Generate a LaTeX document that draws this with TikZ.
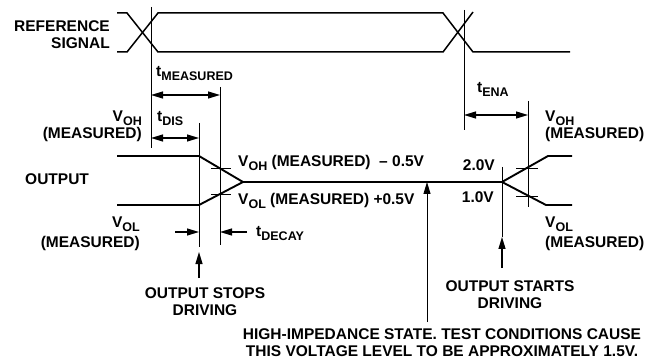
\documentclass[tikz,border=0pt]{standalone}
\usepackage{fontspec}
\setmainfont{Liberation Sans}
\usetikzlibrary{arrows.meta}
\newcommand{\lowtxt}[1]{\raisebox{-0.25em}{\fontsize{12.5}{12.5}\selectfont #1}}
\begin{document}
\begin{tikzpicture}[x=1pt, y=-1pt, >={Triangle[length=12pt, width=7pt]},
		wave/.style={line width=1.9pt},
		bus/.style={line width=1.5pt},
		guide/.style={line width=0.9pt},
		tick/.style={line width=0.8pt},
		dim/.style={line width=1.2pt},
		lbl/.style={font=\fontsize{15.5}{17}\selectfont\bfseries, inner sep=0pt},
		tight/.style={font={\fontsize{15.5}{16.5}\selectfont\bfseries\lineskiplimit=-20pt\relax}},
		loose/.style={font=\fontsize{15.5}{20}\selectfont\bfseries}]
	\useasboundingbox (0, 0) rectangle (648, 358);

	\draw[bus] (117, 13) -- (127, 13) -- (158, 52) -- (443, 52) -- (473, 12);
	\draw[bus] (117, 52) -- (127, 52) -- (158, 13) -- (443, 13) -- (473, 52) -- (570, 52);
	\node[lbl, anchor=north east, align=right] (refsig) at (110, 20.5) {REFERENCE\\SIGNAL};

	\draw[guide] (151, 7) -- (151, 148);
	\draw[guide] (464, 10) -- (464, 130);
	\draw[guide] (199, 123) -- (199, 247);
	\draw[guide] (220, 87) -- (220, 245);
	\draw[guide] (528, 101) -- (528, 207);
	\draw[guide] (502, 167) -- (502, 237);

	\draw[wave] (117, 156) -- (199, 156) -- (243, 182) -- (502, 182) -- (548, 156) -- (572, 156);
	\draw[wave] (117, 205) -- (199, 205) -- (243, 182);
	\draw[wave] (502, 182) -- (546, 205) -- (572, 205);
	\node[lbl, anchor=west] (outlbl) at (25, 179) {OUTPUT};

	\draw[tick] (211, 168) -- (231, 168);
	\draw[tick] (211, 194) -- (231, 194);
	\draw[tick] (516, 168) -- (538, 168);
	\draw[tick] (516, 196) -- (538, 196);

	\draw[dim, <->] (151, 95) -- (220, 95);
	\draw[dim, <->] (151, 138) -- (199, 138);
	\draw[dim, <->] (464, 115) -- (528, 115);
	\draw[dim, ->] (175, 232) -- (199, 232);
	\draw[dim, ->] (247, 232) -- (220, 232);
	\node[lbl, anchor=north west] (tmeas) at (156, 66.5) {t\lowtxt{MEASURED}};
	\node[lbl, anchor=north west] (tdis) at (157, 111) {t\lowtxt{DIS}};
	\node[lbl, anchor=north west] (tena) at (477, 82.5) {t\lowtxt{ENA}};
	\node[lbl, anchor=north west] (tdecay) at (256, 226.5) {t\lowtxt{DECAY}};

	\node[lbl, tight, anchor=north east, align=right] (vohl) at (142, 111) {V\lowtxt{OH}\\(MEASURED)};
	\node[lbl, loose, anchor=north east, align=right] (voll) at (140, 216.5) {V\lowtxt{OL}\\(MEASURED)};
	\node[lbl, tight, anchor=north west, align=left] (vohr) at (545, 111) {V\lowtxt{OH}\\(MEASURED)};
	\node[lbl, loose, anchor=north west, align=left] (volr) at (545, 216.5) {V\lowtxt{OL}\\(MEASURED)};
	\node[lbl, anchor=north west] (vohm) at (238, 155.5) {V\lowtxt{OH} (MEASURED)~~– 0.5V};
	\node[lbl, anchor=north west] (volm) at (238, 193.5) {V\lowtxt{OL} (MEASURED) +0.5V};
	\node[lbl, anchor=north east] (twov) at (495, 159) {2.0V};
	\node[lbl, anchor=north east] (onev) at (494, 191.5) {1.0V};

	\draw[dim, ->] (199, 278) -- (199, 252);
	\draw[dim, ->] (502, 268) -- (502, 237);
	\draw[guide, ->] (427, 322) -- (427, 182);
	\node[lbl, anchor=north, align=center] (stops) at (205, 287.5) {OUTPUT STOPS\\DRIVING};
	\node[lbl, anchor=north, align=center] (starts) at (510, 280.5) {OUTPUT STARTS\\DRIVING};
	\node[lbl, anchor=north, align=center] (hiz) at (442, 328) {HIGH-IMPEDANCE STATE. TEST CONDITIONS CAUSE\\THIS VOLTAGE LEVEL TO BE APPROXIMATELY 1.5V.};
\end{tikzpicture}
\end{document}
